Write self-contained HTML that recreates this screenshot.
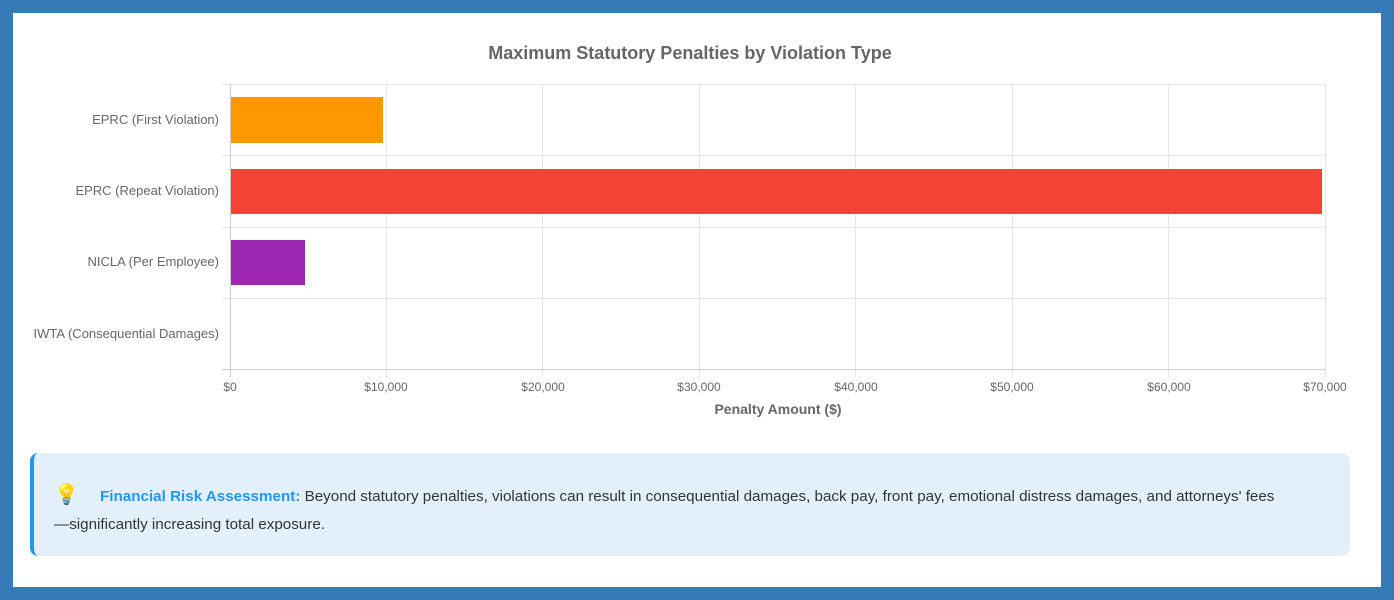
<!DOCTYPE html>
<html><head><meta charset="utf-8"><style>
html,body{margin:0;padding:0;}
body{width:1394px;height:600px;background:#337ab7;position:relative;overflow:hidden;font-family:"Liberation Sans",sans-serif;}
.panel{position:absolute;left:13px;top:13px;width:1368px;height:574px;background:#fff;}
.info{position:absolute;left:30px;top:453px;width:1320px;height:103px;background:#e3f0fb;border-left:4px solid #2196f3;border-radius:8px;box-sizing:border-box;padding:28px 20px 0 20px;font-family:"Liberation Sans",sans-serif;font-size:15.2px;line-height:28px;color:#333;}
.info b{color:#2196f3;}
</style></head><body>
<div class="panel"></div>
<svg style="position:absolute;left:0;top:0" width="1394" height="600" font-family="Liberation Sans, sans-serif">
<text x="690" y="59" text-anchor="middle" font-size="18" font-weight="bold" fill="#666">Maximum Statutory Penalties by Violation Type</text>
<g stroke="#e5e5e5" stroke-width="1">
<line x1="222" y1="84.5" x2="1325" y2="84.5"/>
<line x1="222" y1="155.5" x2="1325" y2="155.5"/>
<line x1="222" y1="227.5" x2="1325" y2="227.5"/>
<line x1="222" y1="298.5" x2="1325" y2="298.5"/>
<line x1="386.5" y1="84" x2="386.5" y2="377"/>
<line x1="542.5" y1="84" x2="542.5" y2="377"/>
<line x1="699.5" y1="84" x2="699.5" y2="377"/>
<line x1="855.5" y1="84" x2="855.5" y2="377"/>
<line x1="1012.5" y1="84" x2="1012.5" y2="377"/>
<line x1="1168.5" y1="84" x2="1168.5" y2="377"/>
<line x1="1325.5" y1="84" x2="1325.5" y2="377"/>
</g>
<line x1="222" y1="369.5" x2="1325" y2="369.5" stroke="#ccc"/>
<line x1="230.5" y1="84" x2="230.5" y2="377" stroke="#ccc"/>
<rect x="231" y="97" width="152" height="46" fill="#ff9800"/>
<rect x="231" y="169" width="1091" height="45" fill="#f44336"/>
<rect x="231" y="240" width="74" height="45" fill="#9c27b0"/>
<g font-size="13" fill="#666" text-anchor="end">
<text x="219" y="124">EPRC (First Violation)</text>
<text x="219" y="195">EPRC (Repeat Violation)</text>
<text x="219" y="266">NICLA (Per Employee)</text>
<text x="219" y="338">IWTA (Consequential Damages)</text>
</g>
<g font-size="12" fill="#666" text-anchor="middle">
<text x="230" y="391">$0</text>
<text x="386" y="391">$10,000</text>
<text x="543" y="391">$20,000</text>
<text x="699" y="391">$30,000</text>
<text x="856" y="391">$40,000</text>
<text x="1012" y="391">$50,000</text>
<text x="1169" y="391">$60,000</text>
<text x="1325" y="391">$70,000</text>
</g>
<text x="778" y="414" text-anchor="middle" font-size="14" font-weight="bold" fill="#666">Penalty Amount ($)</text>
</svg>
<div class="info"><span style="font-size:20px">💡</span>&nbsp;&nbsp;&nbsp;&nbsp;&nbsp;<b>Financial Risk Assessment:</b> Beyond statutory penalties, violations can result in consequential damages, back pay, front pay, emotional distress damages, and attorneys' fees<br>—significantly increasing total exposure.</div>
</body></html>
